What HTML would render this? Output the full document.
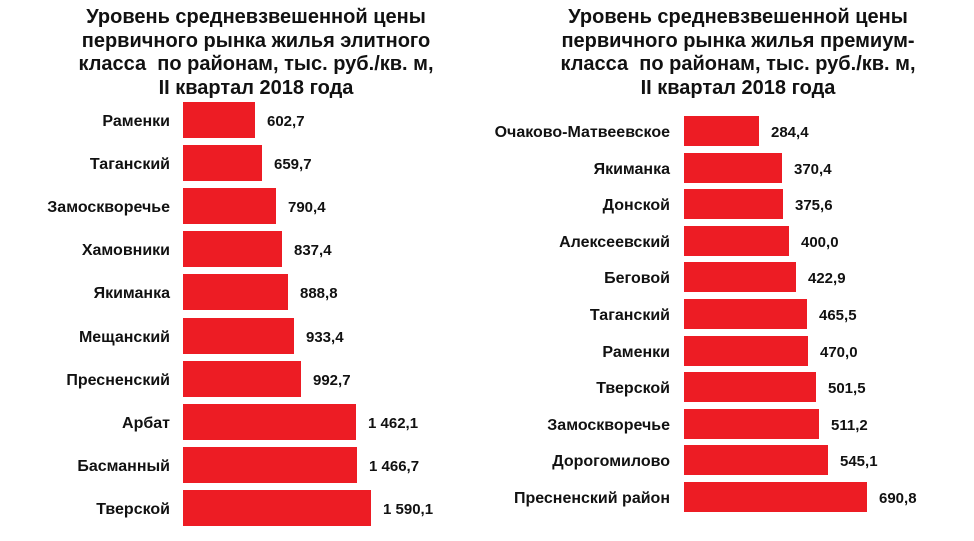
<!DOCTYPE html><html><head><meta charset="utf-8"><style>
body{margin:0;width:974px;height:541px;background:#fff;font-family:"Liberation Sans",Arial,sans-serif;font-weight:bold;color:#111;position:relative;overflow:hidden}
.t{position:absolute;text-align:center;font-size:20px;line-height:23.5px;top:6px;white-space:nowrap}
.l{position:absolute;font-size:16px;text-align:right;width:300px;white-space:nowrap}
.v{position:absolute;font-size:15px}
.b{position:absolute;background:#ed1c24}
</style></head><body>
<div class="t" style="left:56px;width:400px">Уровень средневзвешенной цены<br>первичного рынка жилья элитного<br>класса&nbsp; по районам, тыс. руб./кв. м,<br>II квартал 2018 года</div>
<div class="t" style="left:538px;width:400px">Уровень средневзвешенной цены<br>первичного рынка жилья премиум-<br>класса&nbsp; по районам, тыс. руб./кв. м,<br>II квартал 2018 года</div>
<div id="c"></div>
<script>
var L=[["Раменки","602,7",255],["Таганский","659,7",262],["Замоскворечье","790,4",276],["Хамовники","837,4",282],["Якиманка","888,8",288],["Мещанский","933,4",294],["Пресненский","992,7",301],["Арбат","1 462,1",356],["Басманный","1 466,7",357],["Тверской","1 590,1",371]];
var R=[["Очаково-Матвеевское","284,4",759],["Якиманка","370,4",782],["Донской","375,6",783],["Алексеевский","400,0",789],["Беговой","422,9",796],["Таганский","465,5",807],["Раменки","470,0",808],["Тверской","501,5",816],["Замоскворечье","511,2",819],["Дорогомилово","545,1",828],["Пресненский район","690,8",867]];
var h="";
L.forEach(function(d,i){var y=102+i*43.1;h+='<div class="b" style="left:183px;top:'+y+'px;width:'+(d[2]-183)+'px;height:36px"></div><div class="l" style="left:-130px;top:'+(y+11)+'px">'+d[0]+'</div><div class="v" style="left:'+(d[2]+12)+'px;top:'+(y+11)+'px">'+d[1]+'</div>';});
R.forEach(function(d,i){var y=116+i*36.6;h+='<div class="b" style="left:684px;top:'+y+'px;width:'+(d[2]-684)+'px;height:30px"></div><div class="l" style="left:370px;top:'+(y+8)+'px">'+d[0]+'</div><div class="v" style="left:'+(d[2]+12)+'px;top:'+(y+8)+'px">'+d[1]+'</div>';});
document.getElementById("c").innerHTML=h;
</script>
</body></html>
